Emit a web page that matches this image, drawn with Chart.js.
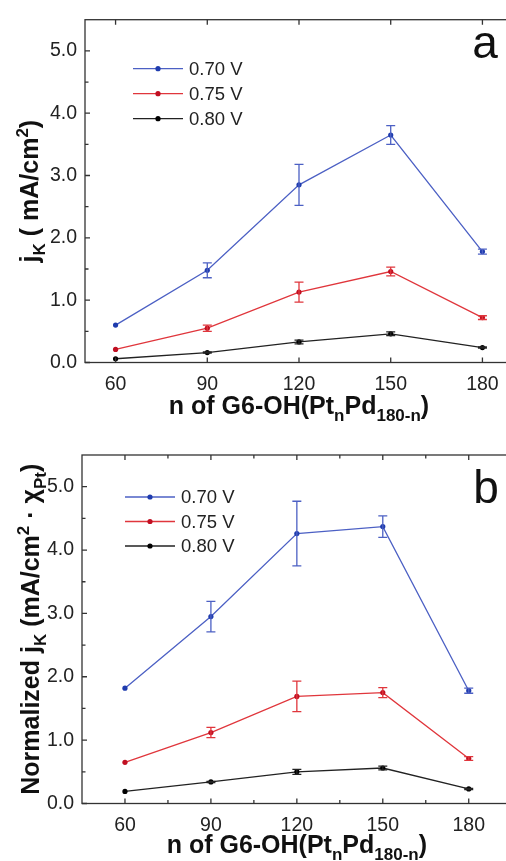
<!DOCTYPE html>
<html>
<head>
<meta charset="utf-8">
<script src="https://cdn.jsdelivr.net/npm/chart.js@4.4.1/dist/chart.umd.min.js"></script>
<style>
  html, body { margin: 0; padding: 0; background: #fff; overflow: hidden; width: 506px; height: 861px; }
  .panel { position: absolute; left: 0; }
  canvas { display: block; }
</style>
</head>
<body>
<div class="panel" style="top:0"><canvas id="chartA" width="520" height="430"></canvas></div>
<div class="panel" style="top:430px"><canvas id="chartB" width="520" height="431"></canvas></div>
<script>
// n in G6-OH(PtnPd180-n)
const nValues = [60, 90, 120, 150, 180];
const voltages = ['0.70 V', '0.75 V', '0.80 V'];

// panel a: jK (mA/cm2)
const jk070 = [0.60, 1.48, 2.85, 3.65, 1.78];
const jk070Err = [0, 0.12, 0.33, 0.15, 0.04];
const jk075 = [0.21, 0.55, 1.13, 1.46, 0.72];
const jk075Err = [0, 0.05, 0.16, 0.07, 0.03];
const jk080 = [0.06, 0.16, 0.33, 0.46, 0.24];
const jk080Err = [0, 0.01, 0.03, 0.03, 0.01];

// panel b: normalized jK (mA/cm2 · χPt)
const norm070 = [1.82, 2.95, 4.26, 4.37, 1.78];
const norm070Err = [0, 0.24, 0.51, 0.17, 0.04];
const norm075 = [0.65, 1.12, 1.69, 1.75, 0.71];
const norm075Err = [0, 0.08, 0.24, 0.08, 0.03];
const norm080 = [0.19, 0.34, 0.50, 0.56, 0.23];
const norm080Err = [0, 0.01, 0.04, 0.03, 0.01];

// axis ticks
const yMajorTicks = [0, 1, 2, 3, 4, 5];
const yMinorTicks = [0.5, 1.5, 2.5, 3.5, 4.5];
const xMajorTicks = [60, 90, 120, 150, 180];
const xMinorTicksB = [75, 105, 135, 165];

const FONT = '"Liberation Sans", Arial, Helvetica, sans-serif';
const lineColors = ['#4c60c4', '#e0363c', '#222222'];
const dotColors = ['#1f3cae', '#c00f22', '#000000'];

function makeSets(vals, errs) {
  return vals.map((v, i) => ({
    label: voltages[i],
    data: nValues.map((n, j) => ({ x: n, y: v[j] })),
    errors: errs[i],
    borderColor: lineColors[i],
    borderWidth: 1.3,
    pointRadius: 2.6,
    pointBorderWidth: 0,
    pointBackgroundColor: dotColors[i],
    tension: 0,
    fill: false
  }));
}

// draws text runs with sub/superscripts, centred on x
function drawRich(ctx, parts, x, y, size) {
  const small = Math.round(size * 0.66);
  let total = 0;
  parts.forEach(p => {
    ctx.font = 'bold ' + (p.sub || p.sup ? small : size) + 'px ' + FONT;
    p.w = ctx.measureText(p.t).width;
    total += p.w;
  });
  let cx = x - total / 2;
  ctx.textAlign = 'left';
  ctx.textBaseline = 'alphabetic';
  parts.forEach(p => {
    ctx.font = 'bold ' + (p.sub || p.sup ? small : size) + 'px ' + FONT;
    const dy = p.sub ? size * 0.28 : p.sup ? -size * 0.42 : 0;
    ctx.fillText(p.t, cx, y + dy);
    cx += p.w;
  });
}

const errorBars = {
  id: 'errorBars',
  afterDatasetsDraw(chart) {
    const { ctx, scales: { x, y } } = chart;
    chart.data.datasets.forEach(ds => {
      ctx.save();
      ctx.strokeStyle = ds.borderColor;
      ctx.lineWidth = 1.3;
      ds.data.forEach((p, j) => {
        const e = ds.errors[j];
        if (!e) return;
        const px = x.getPixelForValue(p.x);
        const t = y.getPixelForValue(p.y + e);
        const b = y.getPixelForValue(p.y - e);
        ctx.beginPath();
        ctx.moveTo(px, t); ctx.lineTo(px, b);
        ctx.moveTo(px - 4.5, t); ctx.lineTo(px + 4.5, t);
        ctx.moveTo(px - 4.5, b); ctx.lineTo(px + 4.5, b);
        ctx.stroke();
      });
      ctx.restore();
    });
  }
};

const frame = {
  id: 'frame',
  afterDraw(chart, args, o) {
    const { ctx, chartArea: { left, right, top, bottom }, scales: { x, y } } = chart;
    ctx.save();
    ctx.strokeStyle = '#333';
    ctx.lineWidth = 1.3;
    ctx.strokeRect(left, top, right - left, bottom - top);
    ctx.beginPath();
    const xt = (v, len) => {
      const px = x.getPixelForValue(v);
      ctx.moveTo(px, bottom); ctx.lineTo(px, bottom - len);
      ctx.moveTo(px, top); ctx.lineTo(px, top + len);
    };
    const yt = (v, len) => {
      const py = y.getPixelForValue(v);
      ctx.moveTo(left, py); ctx.lineTo(left + len, py);
      ctx.moveTo(right, py); ctx.lineTo(right - len, py);
    };
    xMajorTicks.forEach(v => xt(v, 5));
    (o.xMinor || []).forEach(v => xt(v, 3.5));
    yMajorTicks.forEach(v => yt(v, 5));
    yMinorTicks.forEach(v => yt(v, 3.5));
    ctx.stroke();
    ctx.restore();
  }
};

const decor = {
  id: 'decor',
  afterDraw(chart, args, o) {
    const { ctx, chartArea: { left, right, top, bottom } } = chart;
    ctx.save();
    ctx.fillStyle = '#111';
    // axis titles
    drawRich(ctx, o.xTitle, (left + right) / 2, o.xTitleY, 25);
    ctx.save();
    ctx.translate(o.yTitleX, (top + bottom) / 2);
    ctx.rotate(-Math.PI / 2);
    drawRich(ctx, o.yTitle, 0, 0, 25);
    ctx.restore();
    // panel letter
    ctx.font = '46px ' + FONT;
    ctx.textAlign = 'center';
    ctx.fillText(o.letter, o.letterX, o.letterY);
    // legend
    chart.data.datasets.forEach((ds, i) => {
      const ly = top + o.legTop + i * o.legGap;
      const lx = left + o.legLeft;
      ctx.strokeStyle = ds.borderColor;
      ctx.lineWidth = 1.3;
      ctx.beginPath(); ctx.moveTo(lx, ly); ctx.lineTo(lx + 50, ly); ctx.stroke();
      ctx.fillStyle = ds.pointBackgroundColor;
      ctx.beginPath(); ctx.arc(lx + 25, ly, 2.6, 0, Math.PI * 2); ctx.fill();
      ctx.fillStyle = '#222';
      ctx.font = '18.5px ' + FONT;
      ctx.textAlign = 'left';
      ctx.textBaseline = 'middle';
      ctx.fillText(ds.label, lx + 56, ly + 1);
      ctx.textBaseline = 'alphabetic';
    });
    ctx.restore();
  }
};

function makeChart(id, sets, xMin, xMax, pad, yWidth, xHeight, decorOpts, xMinor) {
  return new Chart(document.getElementById(id), {
    type: 'line',
    data: { datasets: sets },
    options: {
      responsive: false,
      animation: false,
      devicePixelRatio: 1,
      layout: { padding: pad },
      plugins: {
        legend: { display: false },
        tooltip: { enabled: false },
        decor: decorOpts,
        frame: { xMinor: xMinor }
      },
      scales: {
        x: {
          type: 'linear', min: xMin, max: xMax,
          afterBuildTicks: s => { s.ticks = xMajorTicks.map(v => ({ value: v })); },
          afterFit: s => { s.height = xHeight; },
          grid: { display: false, drawTicks: false },
          border: { display: false },
          ticks: { font: { family: FONT, size: 19.5 }, color: '#222', padding: 10, callback: v => String(v) }
        },
        y: {
          type: 'linear', min: 0, max: 5.5,
          afterBuildTicks: s => { s.ticks = yMajorTicks.map(v => ({ value: v })); },
          afterFit: s => { s.width = yWidth; },
          grid: { display: false, drawTicks: false },
          border: { display: false },
          ticks: { font: { family: FONT, size: 19.5 }, color: '#222', padding: 8, callback: v => v.toFixed(1) }
        }
      }
    },
    plugins: [errorBars, frame, decor]
  });
}

makeChart('chartA',
  makeSets([jk070, jk075, jk080], [jk070Err, jk075Err, jk080Err]),
  50, 190, { left: 0, top: 14, right: 7, bottom: 0 }, 85, 67.5,
  {
    xTitle: [{ t: 'n of G6-OH(Pt' }, { t: 'n', sub: true }, { t: 'Pd' }, { t: '180-n', sub: true }, { t: ')' }],
    xTitleY: 414,
    yTitle: [{ t: 'j' }, { t: 'K', sub: true }, { t: ' ( mA/cm' }, { t: '2', sup: true }, { t: ')' }],
    yTitleX: 38,
    letter: 'a', letterX: 485, letterY: 58,
    legLeft: 48, legTop: 49, legGap: 25
  }, []);

makeChart('chartB',
  makeSets([norm070, norm075, norm080], [norm070Err, norm075Err, norm080Err]),
  45, 195, { left: 0, top: 25, right: 8.3, bottom: 0 }, 82, 57.5,
  {
    xTitle: [{ t: 'n of G6-OH(Pt' }, { t: 'n', sub: true }, { t: 'Pd' }, { t: '180-n', sub: true }, { t: ')' }],
    xTitleY: 423,
    yTitle: [{ t: 'Normalized j' }, { t: 'K', sub: true }, { t: ' (mA/cm' }, { t: '2', sup: true }, { t: ' \u00b7 \u03c7' }, { t: 'Pt', sub: true }, { t: ')' }],
    yTitleX: 39,
    letter: 'b', letterX: 486, letterY: 73,
    legLeft: 43, legTop: 42, legGap: 24.5
  }, xMinorTicksB);
</script>
</body>
</html>
